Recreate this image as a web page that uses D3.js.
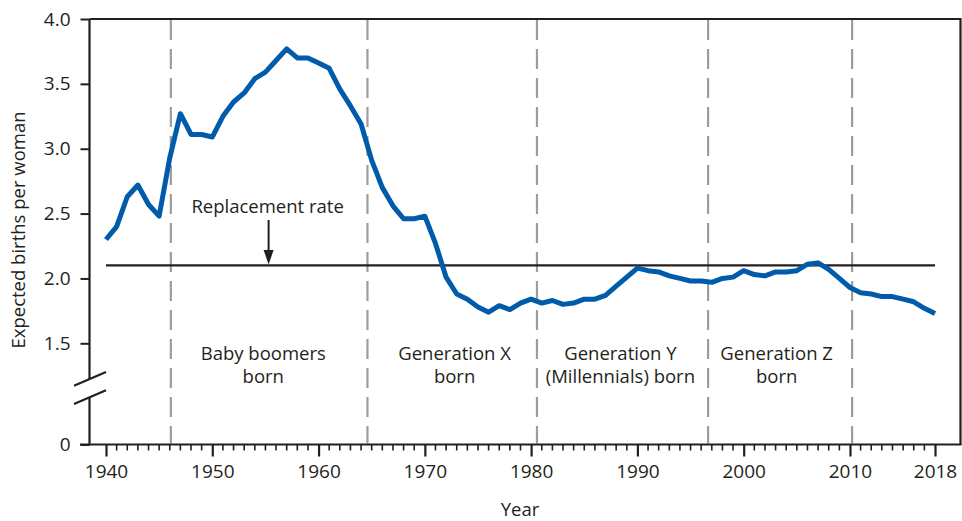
<!DOCTYPE html>
<html>
<head>
<meta charset="utf-8">
<script src="https://cdn.jsdelivr.net/npm/d3@7"></script>
<style>
  body { margin: 0; background: #fff; }
  text { font-family: "Open Sans", sans-serif; fill: #231f20; }
</style>
</head>
<body>
<script>
// data
const years = d3.range(1940, 2019);
const births = [
  2.30, 2.40, 2.63, 2.72, 2.57, 2.48, 2.93, 3.27, 3.11, 3.11,
  3.09, 3.25, 3.36, 3.43, 3.54, 3.59, 3.68, 3.77, 3.70, 3.70,
  3.66, 3.62, 3.46, 3.33, 3.19, 2.91, 2.70, 2.56, 2.46, 2.46,
  2.48, 2.27, 2.01, 1.88, 1.84, 1.78, 1.74, 1.79, 1.76, 1.81,
  1.84, 1.81, 1.83, 1.80, 1.81, 1.84, 1.84, 1.87, 1.94, 2.01,
  2.08, 2.06, 2.05, 2.02, 2.00, 1.98, 1.98, 1.97, 2.00, 2.01,
  2.06, 2.03, 2.02, 2.05, 2.05, 2.06, 2.11, 2.12, 2.07, 2.00,
  1.93, 1.89, 1.88, 1.86, 1.86, 1.84, 1.82, 1.77, 1.73
];
const replacementRate = 2.1;
const generationBounds = [1946.1, 1964.6, 1980.55, 1996.65, 2010.2];
const generationLabels = [
  ["Baby boomers", "born"],
  ["Generation X", "born"],
  ["Generation Y", "(Millennials) born"],
  ["Generation Z", "born"]
];
const generationLabelYears = [1954.8, 1972.8, 1988.4, 2003.1];
const yTicks = [0, 1.5, 2.0, 2.5, 3.0, 3.5, 4.0];
const xTicks = [1940, 1950, 1960, 1970, 1980, 1990, 2000, 2010, 2018];

const width = 962, height = 521;
const pLeft = 89.5, pTop = 19, pRight = 960.5, pBottom = 444.5;

const svg = d3.select("body").append("svg")
  .attr("width", width)
  .attr("height", height);

// scales (broken y axis between 0 and 1.5)
const x = d3.scaleLinear().domain([1940, 2018]).range([106, 935]);
const y = d3.scaleLinear().domain([0, 1.5, 4]).range([pBottom, 343.3, pTop]);

// dashed generation boundaries
svg.selectAll(".gen-line")
  .data(generationBounds)
  .enter().append("line")
  .attr("class", "gen-line")
  .attr("x1", d => x(d)).attr("x2", d => x(d))
  .attr("y1", pTop + 1).attr("y2", pBottom - 1)
  .attr("stroke", "#9d9d9d")
  .attr("stroke-width", 2.2)
  .attr("stroke-dasharray", "20,9");

// generation labels
const gl = svg.selectAll(".gen-label")
  .data(generationLabels)
  .enter().append("text")
  .attr("class", "gen-label")
  .attr("text-anchor", "middle")
  .style("font-size", "18.5px");
gl.each(function (d, i) {
  d3.select(this).selectAll("tspan")
    .data(d)
    .enter().append("tspan")
    .attr("x", x(generationLabelYears[i]))
    .attr("y", (t, j) => 360 + j * 23)
    .text(t => t);
});

// frame: top and right
svg.append("path")
  .attr("d", `M${pLeft},${pTop}H${pRight}V${pBottom}`)
  .attr("fill", "none")
  .attr("stroke", "#231f20")
  .attr("stroke-width", 2.2);

// y axis
const yAxis = svg.append("g")
  .attr("transform", `translate(${pLeft},0)`)
  .call(d3.axisLeft(y).tickValues(yTicks).tickSize(9).tickPadding(10)
    .tickFormat(d => d === 0 ? "0" : d3.format(".1f")(d)));
yAxis.select(".domain").remove();
yAxis.selectAll("line").attr("stroke", "#231f20").attr("stroke-width", 2);
yAxis.selectAll("text").style("font-size", "19px").attr("fill", "#231f20");

// y axis line with break
svg.append("path")
  .attr("d", `M${pLeft},${pTop}V379M${pLeft},397V${pBottom}`)
  .attr("stroke", "#231f20").attr("stroke-width", 2.2).attr("fill", "none");
svg.selectAll(".brk")
  .data([385.7, 404])
  .enter().append("line")
  .attr("class", "brk")
  .attr("x1", 74).attr("y1", d => d)
  .attr("x2", 106).attr("y2", d => d - 13.7)
  .attr("stroke", "#231f20").attr("stroke-width", 2.2);

// x axis
svg.append("line")
  .attr("x1", 80).attr("x2", pRight + 1)
  .attr("y1", pBottom).attr("y2", pBottom)
  .attr("stroke", "#231f20").attr("stroke-width", 2.2);
svg.selectAll(".minor")
  .data(years.filter(d => xTicks.indexOf(d) < 0))
  .enter().append("line")
  .attr("class", "minor")
  .attr("x1", d => x(d)).attr("x2", d => x(d))
  .attr("y1", pBottom).attr("y2", pBottom + 6)
  .attr("stroke", "#231f20").attr("stroke-width", 1.6);
const xAxis = svg.append("g")
  .attr("transform", `translate(0,${pBottom})`)
  .call(d3.axisBottom(x).tickValues(xTicks).tickSize(12).tickPadding(8)
    .tickFormat(d3.format("d")));
xAxis.select(".domain").remove();
xAxis.selectAll("line").attr("stroke", "#231f20").attr("stroke-width", 2.2);
xAxis.selectAll("text").style("font-size", "19px").attr("fill", "#231f20");

// replacement rate line
svg.append("line")
  .attr("x1", x(1940)).attr("x2", x(2018))
  .attr("y1", y(replacementRate)).attr("y2", y(replacementRate))
  .attr("stroke", "#231f20").attr("stroke-width", 2.2);

// annotation with arrow
const ax = x(1955.3);
svg.append("text")
  .attr("x", ax - 1).attr("y", 213)
  .attr("text-anchor", "middle")
  .style("font-size", "18.5px")
  .text("Replacement rate");
svg.append("line")
  .attr("x1", ax).attr("x2", ax)
  .attr("y1", 220).attr("y2", 254)
  .attr("stroke", "#231f20").attr("stroke-width", 2);
svg.append("path")
  .attr("d", `M${ax - 5},${250}L${ax + 5},${250}L${ax},${y(replacementRate) - 1}Z`)
  .attr("fill", "#231f20");

// data line
const line = d3.line()
  .x((d, i) => x(years[i]))
  .y(d => y(d));
svg.append("path")
  .datum(births)
  .attr("d", line)
  .attr("fill", "none")
  .attr("stroke", "#005bab")
  .attr("stroke-width", 5)
  .attr("stroke-linejoin", "round");

// axis titles
svg.append("text")
  .attr("transform", "translate(25,230) rotate(-90)")
  .attr("text-anchor", "middle")
  .style("font-size", "18.5px")
  .text("Expected births per woman");
svg.append("text")
  .attr("x", 520).attr("y", 516)
  .attr("text-anchor", "middle")
  .style("font-size", "18.5px")
  .text("Year");
</script>
</body>
</html>
